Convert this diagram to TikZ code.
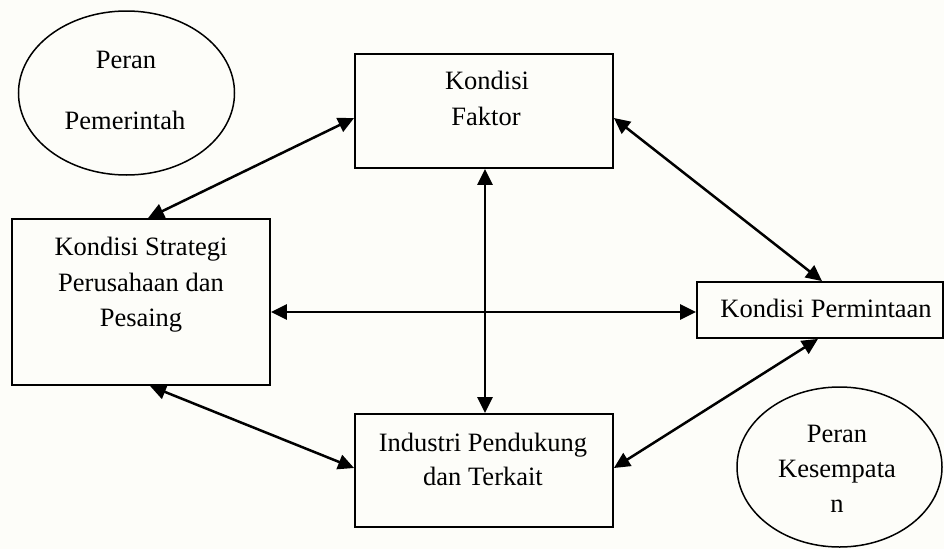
\documentclass[tikz,border=0pt]{standalone}
\usepackage{fontspec}
\setmainfont{Liberation Serif}
\usetikzlibrary{arrows.meta,shapes.geometric}
\definecolor{bgc}{RGB}{253,253,249}
\tikzset{
  box/.style={draw, line width=1.8pt, rectangle, inner sep=0pt},
  oval/.style={draw, line width=1.5pt, ellipse, inner sep=0pt},
  txt/.style={anchor=base, inner sep=0pt, font=\fontsize{26.5}{32}\selectfont},
  conn/.style={line width=2.5pt, {Triangle[length=16pt,width=15pt]}-{Triangle[length=16pt,width=15pt]}}
}
\begin{document}
\begin{tikzpicture}[x=1pt,y=-1pt]
\fill[bgc] (0,0) rectangle (944,549);
\useasboundingbox (0,0) rectangle (944,549);
% shapes
\node[oval, minimum width=216pt, minimum height=164pt] (pem) at (126.5,93) {};
\node[oval, minimum width=205pt, minimum height=160pt] (kes) at (839.5,467) {};
\node[box, minimum width=258pt, minimum height=114pt] (faktor) at (484,111) {};
\node[box, minimum width=258pt, minimum height=166pt] (strat) at (141,302) {};
\node[box, minimum width=246pt, minimum height=56pt] (minta) at (820,310) {};
\node[box, minimum width=258pt, minimum height=113pt] (industri) at (484,470.5) {};
% texts
\node[txt] (pem1) at (126,68) {Peran};
\node[txt] (pem2) at (125,129) {Pemerintah};
\node[txt] (fak1) at (487,89) {Kondisi};
\node[txt] (fak2) at (486,125) {Faktor};
\node[txt] (str1) at (141,255) {Kondisi Strategi};
\node[txt] (str2) at (141,291) {Perusahaan dan};
\node[txt] (str3) at (141,326) {Pesaing};
\node[txt] (min1) at (826,317) {Kondisi Permintaan};
\node[txt] (ind1) at (483,451) {Industri Pendukung};
\node[txt] (ind2) at (483,485) {dan Terkait};
\node[txt] (kes1) at (837,442) {Peran};
\node[txt] (kes2) at (837,477) {Kesempata};
\node[txt] (kes3) at (837,512) {n};
% connectors
\draw[conn] ([xshift=7pt]strat.north) -- ([yshift=-7pt]faktor.west);
\draw[conn] ([yshift=-7pt]faktor.east) -- ([xshift=2pt]minta.north);
\draw[conn] ([xshift=1pt]faktor.south) -- ([xshift=1pt]industri.north);
\draw[conn] ([yshift=-10pt]strat.east) -- ([yshift=-2pt]minta.west);
\draw[conn] ([xshift=9pt]strat.south) -- ([yshift=2.5pt]industri.west);
\draw[conn] ([yshift=2.5pt]industri.east) -- ([xshift=-2pt]minta.south);
\end{tikzpicture}
\end{document}
